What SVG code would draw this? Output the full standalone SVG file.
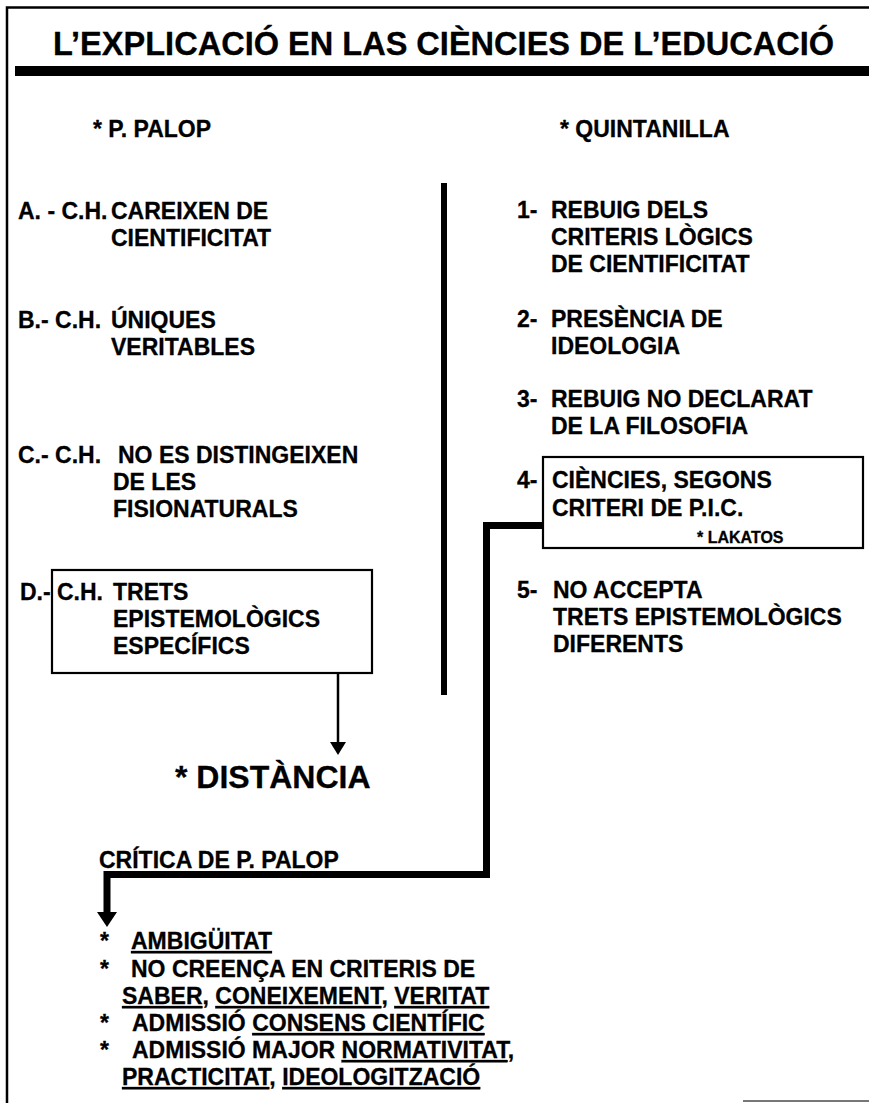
<svg xmlns="http://www.w3.org/2000/svg" width="869" height="1103" viewBox="0 0 869 1103">
<defs>
<style>
.t{font-family:"Liberation Sans",Arial,Helvetica,sans-serif;font-weight:bold;font-size:23px;fill:#000;stroke:#000;stroke-width:0.3}
.title{font-size:33px}
.dist{font-size:32px}
.small{font-size:16px}
.u{text-decoration:underline}
.box{fill:none;stroke:#000;stroke-width:2.2}
.frame{fill:none;stroke:#000;stroke-width:2.5}
</style>
<marker id="arrThin" markerUnits="userSpaceOnUse" markerWidth="14" markerHeight="18" viewBox="0 -9 14 18" refX="0" refY="0" orient="auto">
<path d="M0,-8 L13,0 L0,8 z" fill="#000"/>
</marker>
<marker id="arrThick" markerUnits="userSpaceOnUse" markerWidth="16" markerHeight="22" viewBox="0 -11 16 22" refX="0" refY="0" orient="auto">
<path d="M0,-10 L15,0 L0,10 z" fill="#000"/>
</marker>
</defs>
<rect width="869" height="1103" fill="#fff"/>

<g id="frame">
<path class="frame" d="M7,1103 V7.5 H869"/>
<line x1="743" y1="1101" x2="869" y2="1101" stroke="#777" stroke-width="2"/>
</g>

<g id="title">
<text class="t title" x="53" y="55" textLength="781" lengthAdjust="spacingAndGlyphs">L’EXPLICACIÓ EN LAS CIÈNCIES DE L’EDUCACIÓ</text>
<rect x="15" y="66" width="854" height="10" fill="#000"/>
</g>

<g id="head-palop"><text class="t" x="93" y="137">* P. PALOP</text></g>
<g id="head-quintanilla"><text class="t" x="560" y="137">* QUINTANILLA</text></g>

<g id="divider"><rect x="441" y="183" width="6" height="512" fill="#000"/></g>

<g id="item-a">
<text class="t" x="18" y="219">A. - C.H.<tspan x="111">CAREIXEN DE</tspan></text>
<text class="t" x="111" y="246">CIENTIFICITAT</text>
</g>
<g id="item-b">
<text class="t" x="18" y="328">B.- C.H.<tspan x="111">ÚNIQUES</tspan></text>
<text class="t" x="111" y="355">VERITABLES</text>
</g>
<g id="item-c">
<text class="t" x="18" y="463">C.- C.H.<tspan x="118">NO ES DISTINGEIXEN</tspan></text>
<text class="t" x="113" y="490">DE LES</text>
<text class="t" x="113" y="517">FISIONATURALS</text>
</g>
<g id="item-d">
<rect class="box" x="52" y="570" width="320" height="103"/>
<text class="t" x="20" y="600">D.-<tspan x="57">C.H.</tspan><tspan x="113">TRETS</tspan></text>
<text class="t" x="113" y="627">EPISTEMOLÒGICS</text>
<text class="t" x="113" y="654">ESPECÍFICS</text>
</g>
<g id="distancia">
<text class="t dist" x="175" y="788">* DISTÀNCIA</text>
</g>

<g id="item-1">
<text class="t" x="517" y="218">1-<tspan x="551">REBUIG DELS</tspan></text>
<text class="t" x="551" y="245">CRITERIS LÒGICS</text>
<text class="t" x="551" y="272">DE CIENTIFICITAT</text>
</g>
<g id="item-2">
<text class="t" x="517" y="327">2-<tspan x="551">PRESÈNCIA DE</tspan></text>
<text class="t" x="551" y="354">IDEOLOGIA</text>
</g>
<g id="item-3">
<text class="t" x="517" y="407">3-<tspan x="551">REBUIG NO DECLARAT</tspan></text>
<text class="t" x="551" y="434">DE LA FILOSOFIA</text>
</g>
<g id="item-4">
<rect class="box" x="543" y="457" width="320" height="91"/>
<text class="t" x="517" y="488">4-<tspan x="552">CIÈNCIES, SEGONS</tspan></text>
<text class="t" x="552" y="516">CRITERI DE P.I.C.</text>
<text class="t small" x="697" y="543">* LAKATOS</text>
</g>
<g id="item-5">
<text class="t" x="517" y="598">5-<tspan x="553">NO ACCEPTA</tspan></text>
<text class="t" x="553" y="625">TRETS EPISTEMOLÒGICS</text>
<text class="t" x="553" y="652">DIFERENTS</text>
</g>

<g id="critica">
<text class="t" x="99" y="868">CRÍTICA DE P. PALOP</text>
</g>
<g id="critica-list">
<text class="t" x="100" y="949">*<tspan x="131" class="u">AMBIGÜITAT</tspan></text>
<text class="t" x="100" y="977">*<tspan x="131">NO CREENÇA EN CRITERIS DE</tspan></text>
<text class="t" x="122" y="1004"><tspan class="u">SABER</tspan>, <tspan class="u">CONEIXEMENT</tspan>, <tspan class="u">VERITAT</tspan></text>
<text class="t" x="100" y="1031">*<tspan x="132">ADMISSIÓ </tspan><tspan class="u">CONSENS CIENTÍFIC</tspan></text>
<text class="t" x="100" y="1058">*<tspan x="132">ADMISSIÓ MAJOR </tspan><tspan class="u">NORMATIVITAT</tspan>,</text>
<text class="t" x="122" y="1085"><tspan class="u">PRACTICITAT</tspan>, <tspan class="u">IDEOLOGITZACIÓ</tspan></text>
</g>

<g id="connectors">
<line x1="338" y1="673" x2="338" y2="742" stroke="#000" stroke-width="2.5" marker-end="url(#arrThin)"/>
<path d="M543,525.5 H486.5 V874.5 H107 V912" fill="none" stroke="#000" stroke-width="7" stroke-linejoin="miter" marker-end="url(#arrThick)"/>
</g>
</svg>
